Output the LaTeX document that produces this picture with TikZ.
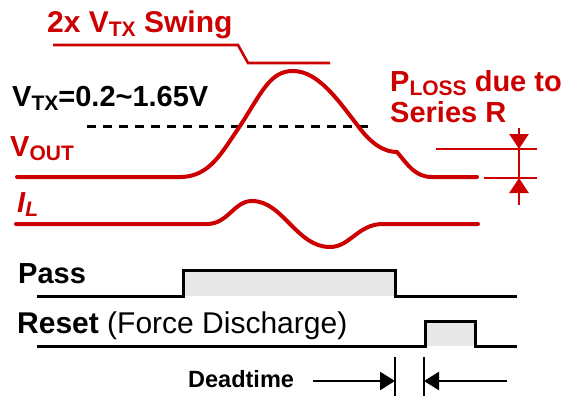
\documentclass[tikz,border=0pt]{standalone}
\usepackage{fontspec}
\usepackage{tikz}
\usetikzlibrary{arrows.meta}
\setmainfont{Liberation Sans}
\definecolor{sigred}{RGB}{204, 0, 0}
\definecolor{pulsegray}{RGB}{232, 232, 232}
\newcommand{\sigsub}[1]{\raisebox{-4pt}{\fontsize{21}{21}\selectfont #1}}
\tikzset{
 biglabel/.style={
 inner sep=0pt,
 anchor=base west,
 font=\fontsize{29}{34}\selectfont\bfseries
 },
 redlabel/.style={biglabel, text=sigred},
 wave/.style={draw=sigred, line width=4pt, line join=round, line cap=round},
 logic/.style={draw=black, line width=3pt, line join=miter},
 thinred/.style={draw=sigred, line width=2.6pt},
 refdash/.style={draw=black, line width=3pt, dash pattern=on 9pt off 7pt},
 dimarrow/.style={-{Triangle[length=15pt, width=19pt]}, draw=sigred, fill=sigred, line width=2.6pt},
 deadarrow/.style={-{Triangle[length=15pt, width=18pt]}, draw=black, line width=2.4pt}
}

\begin{document}
\begin{tikzpicture}[x=1pt, y=-1pt]
 \useasboundingbox (0,0) rectangle (570,396);

 % labels
 \node[redlabel, font=\fontsize{30}{34}\selectfont\bfseries] (swinglbl) at (47,33) {2x V\sigsub{TX} Swing};
 \node[biglabel] (vtxlbl) at (12,106) {V\sigsub{TX}=0.2\textasciitilde 1.65V};
 \node[redlabel] (voutlbl) at (10,156) {V\sigsub{OUT}};
 \node[redlabel] (losslbl) at (390,91) {P\sigsub{LOSS} due to};
 \node[redlabel] (serieslbl) at (390,122) {Series R};
 \node[redlabel, font=\fontsize{29}{34}\selectfont\bfseries\itshape] (illbl) at (17,212) {I\sigsub{L}};
 \node[biglabel] (passlbl) at (18,283) {Pass};
 \node[biglabel, font=\fontsize{30}{34}\selectfont] (resetlbl) at (17,333) {\textbf{Reset} (Force Discharge)};
 \node[biglabel, font=\fontsize{23.5}{28}\selectfont\bfseries] (deadlbl) at (188,387) {Deadtime};

 % swing marker and reference level
 \draw[thinred] (53,45) -- (238,45) -- (248,63) -- (330,63);
 \draw[refdash] (87,126) -- (375,126);

 % waveforms
 \draw[wave] (17,177) -- (180,177)
 .. controls (210,177) and (222,152) .. (240,126)
 .. controls (262,92) and (270,71) .. (293,71)
 .. controls (318,71) and (338,100) .. (358,126)
 .. controls (372,145) and (385,152) .. (397,152)
 .. controls (408,165) and (415,177) .. (432,177)
 -- (477,177);
 \draw[wave] (16,224) -- (207,224)
 .. controls (228,224) and (234,201) .. (252,201)
 .. controls (268,201) and (279,213) .. (291,225)
 .. controls (303,237) and (314,247) .. (330,247)
 .. controls (350,247) and (358,224) .. (383,224)
 -- (478,224);

 % loss marker
 \coordinate (ptop) at (519,128);
 \coordinate (phi) at (519,149);
 \coordinate (plo) at (519,178);
 \coordinate (pbot) at (519,205);
 \draw[thinred] (436,149) -- (537,149);
 \draw[thinred] (484,178) -- (537,178);
 \draw[thinred] (phi) -- (plo);
 \draw[dimarrow] (ptop) -- (phi);
 \draw[dimarrow] (pbot) -- (plo);

 % control signals
 \fill[pulsegray] (183,270) rectangle (395,296);
 \fill[pulsegray] (425,321) rectangle (475,346);
 \draw[logic] (37,296) -- (183,296) -- (183,270) -- (395,270) -- (395,296) -- (517,296);
 \draw[logic] (37,346) -- (425,346) -- (425,321) -- (475,321) -- (475,346) -- (517,346);

 % deadtime marker
 \coordinate (dleft) at (395,381);
 \coordinate (dright) at (424,381);
 \draw[black, line width=2.4pt] (395,357) -- (395,396);
 \draw[black, line width=2.4pt] (424,357) -- (424,396);
 \draw[deadarrow] (313,381) -- (dleft);
 \draw[deadarrow] (507,381) -- (dright);
\end{tikzpicture}
\end{document}
